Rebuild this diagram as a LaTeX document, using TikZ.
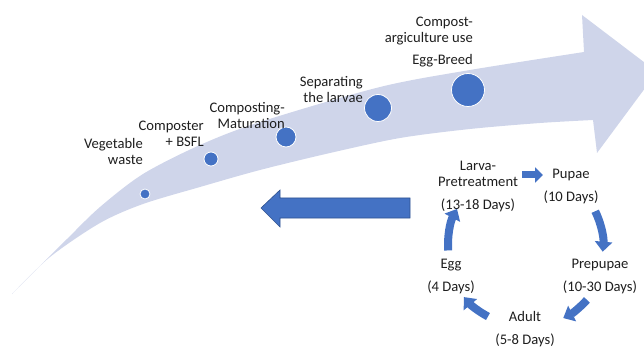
\documentclass[tikz,border=0pt]{standalone}
\usepackage{fontspec}
\setmainfont{Carlito}
\usetikzlibrary{arrows.meta}
\definecolor{accent}{RGB}{68,114,196}
\definecolor{accentdark}{RGB}{47,82,143}
\definecolor{band}{RGB}{207,213,234}
\definecolor{ink}{RGB}{30,30,30}
\begin{document}
\begin{tikzpicture}[x=1pt,y=-1pt,
  lbl/.style={font=\fontsize{14.6}{16}\selectfont, text=ink, inner sep=0pt},
  steplbl/.style={lbl, align=right, anchor=base east},
  stagelbl/.style={lbl, align=center, anchor=base},
  dot/.style={circle, fill=accent, draw=white, line width=0.8pt, inner sep=0pt},
  cyc/.style={accent, line width=8pt, -{Triangle[width=17pt,length=10pt]}},
  hop/.style={accent, line width=7pt, -{Triangle[width=15pt,length=8pt]}},
]
\useasboundingbox (0,0) rectangle (644,347);
\clip (0,0) rectangle (644,347);

% wide curved process arrow, tapering to a point at its tail
\fill[band]
  plot[smooth, tension=0.5] coordinates {(12,294) (67,239) (100,207)
    (143,174) (200,145) (260,122) (380,87) (470,70) (584,52)}
  -- (582,15) -- (657,72) -- (597,153) --
  plot[smooth, tension=0.5] coordinates {(593,120) (540,123) (470,129) (400,138)
    (330,153) (260,170) (200,187) (143,204) (100,223) (50,257) (12,294)}
  -- cycle;

% process steps along the arrow
\node[dot, minimum size=10pt] (d1) at (145,194) {};
\node[dot, minimum size=14pt] (d2) at (211,159) {};
\node[dot, minimum size=20pt] (d3) at (286,137) {};
\node[dot, minimum size=27pt] (d4) at (378,108) {};
\node[dot, minimum size=33pt] (d5) at (468,90) {};

% labels are placed by the baseline of their last line
\node[steplbl] (s1) at (143,165) {Vegetable\\waste};
\node[steplbl] (s2) at (204,147) {Composter\\+ BSFL};
\node[steplbl] (s3) at (285,129) {Composting-\\Maturation};
\node[steplbl] (s4) at (363,103) {Separating\\the larvae};
\node[steplbl] (s5) at (473,65) {Egg-Breed};
\node[steplbl] (s6) at (473,43) {Compost-\\argiculture use};

% return arrow
\filldraw[fill=accent, draw=accentdark, line width=0.6pt]
  (410,198) -- (280,198) -- (280,190) -- (261,208) -- (280,227)
  -- (280,218) -- (410,218) -- cycle;

% life cycle
\coordinate (cc) at (526,245);
\node[stagelbl] (larva) at (478,210) {Larva-\\Pretreatment\\[7pt](13-18 Days)};
\node[stagelbl] (pupae) at (571,202) {Pupae\\[7pt](10 Days)};
\node[stagelbl] (prepupae) at (600,291) {Prepupae\\[7pt](10-30 Days)};
\node[stagelbl] (adult) at (525,344) {Adult\\[7pt](5-8 Days)};
\node[stagelbl] (egg) at (451,291) {Egg\\[7pt](4 Days)};

\coordinate (lp1) at (522,175);
\coordinate (lp2) at (543,175);
\draw[hop] (lp1) -- (lp2);
\draw[cyc] ([shift={(334:77)}]cc) arc[start angle=334, end angle=365, radius=77];
\draw[cyc] ([shift={(42:82)}]cc) arc[start angle=42, end angle=63, radius=82];
\draw[cyc] ([shift={(118:81)}]cc) arc[start angle=118, end angle=140, radius=81];
\draw[cyc] ([shift={(176:78)}]cc) arc[start angle=176, end angle=208, radius=77];
\end{tikzpicture}
\end{document}
